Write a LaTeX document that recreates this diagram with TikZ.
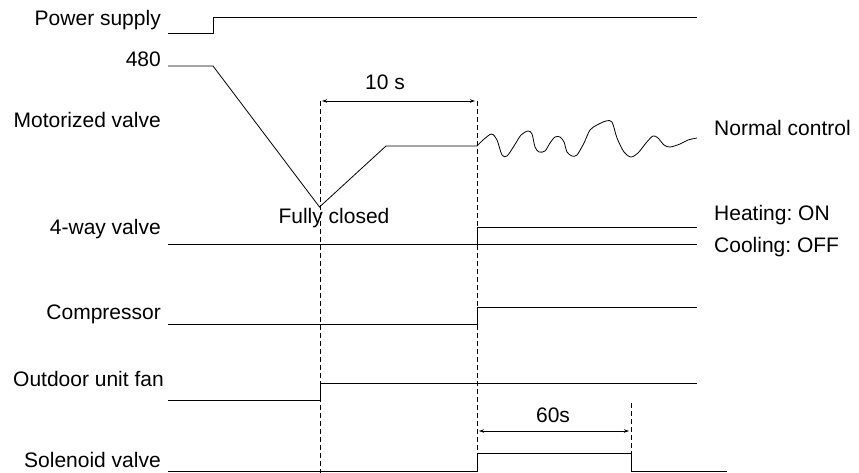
\documentclass[tikz,border=0pt]{standalone}
\usepackage{fontspec}
\newfontfamily\lbl{Liberation Sans}
\usetikzlibrary{arrows.meta}
\frenchspacing
\begin{document}
\begin{tikzpicture}[x=1pt,y=-1pt,
  sig/.style={line width=0.8pt},
  guide/.style={line width=0.8pt, dash pattern=on 5pt off 3pt},
  lab/.style={font=\lbl\fontsize{21}{24}\selectfont, inner sep=0pt},
  dimline/.style={line width=0.8pt, {Stealth[length=5pt,width=3.5pt]}-{Stealth[length=5pt,width=3.5pt]}}]
\useasboundingbox (0,0) rectangle (859,473);
% labels
\node[lab, anchor=base east] (ps) at (161,26) {Power supply};
\node[lab, anchor=base east] (v480) at (161,67) {480};
\node[lab, anchor=base east] (mv) at (161,128) {Motorized valve};
\node[lab, anchor=base east] (fw) at (161,234) {4-way valve};
\node[lab, anchor=base east] (cp) at (161,319) {Compressor};
\node[lab, anchor=base east] (of) at (164,386) {Outdoor unit fan};
\node[lab, anchor=base east] (sv) at (161,467) {Solenoid valve};
\node[lab, anchor=base] (ten) at (385,90) {10 s};
\node[lab, anchor=base] (fc) at (334,223) {Fully closed};
\node[lab, anchor=base west] (nc) at (714,136) {Normal control};
\node[lab, anchor=base west] (hon) at (714,220) {Heating: ON};
\node[lab, anchor=base west] (coff) at (714,252) {Cooling: OFF};
\node[lab, anchor=base] (sixty) at (553,422) {60s};
% guide lines
\coordinate (d1t) at (320,101);
\coordinate (d1b) at (320,473);
\coordinate (d2t) at (477,101);
\coordinate (d2b) at (477,471);
\coordinate (d3t) at (631,403);
\coordinate (d3b) at (631,453);
\draw[guide] (d1t) -- (d1b);
\draw[guide] (d2t) -- (d2b);
\draw[guide] (d3t) -- (d3b);
% dimension arrows
\coordinate (a1l) at (322,101);
\coordinate (a1r) at (475,101);
\draw[dimline] (a1l) -- (a1r);
\coordinate (a2l) at (479,431);
\coordinate (a2r) at (629,431);
\draw[dimline] (a2l) -- (a2r);
% power supply
\draw[sig] (168,33) -- (213,33) -- (213,17) -- (697,17);
% motorized valve
\draw[sig] (168,66) -- (213,66) -- (319.5,207) -- (386,146) -- (477,146);
\draw[sig] plot[smooth, tension=0.5] coordinates {(477,146) (483,140) (491.5,134) (497,140) (502,155) (507,156) (514,146) (521,135) (528,131) (532,134) (535,147) (539,152) (545,151) (550,143) (555,137) (560,137) (564,142) (567,152) (572,156) (577,155) (584,143) (590,130) (597,125) (606,121) (612,122) (617,138) (624,152) (631,157) (638,153) (646,143) (653,136) (658,138) (664,145) (670,147) (680,144) (688,140) (697,138)};
% 4-way valve
\draw[sig] (168,244) -- (697,244);
\draw[sig] (477,244) -- (477,227) -- (697,227);
% compressor
\draw[sig] (168,324) -- (477,324) -- (477,307) -- (697,307);
% outdoor unit fan
\draw[sig] (168,400) -- (320,400) -- (320,383) -- (697,383);
% solenoid valve
\draw[sig] (168,471) -- (477,471) -- (477,453) -- (631,453) -- (631,471) -- (727,471);
\end{tikzpicture}
\end{document}
